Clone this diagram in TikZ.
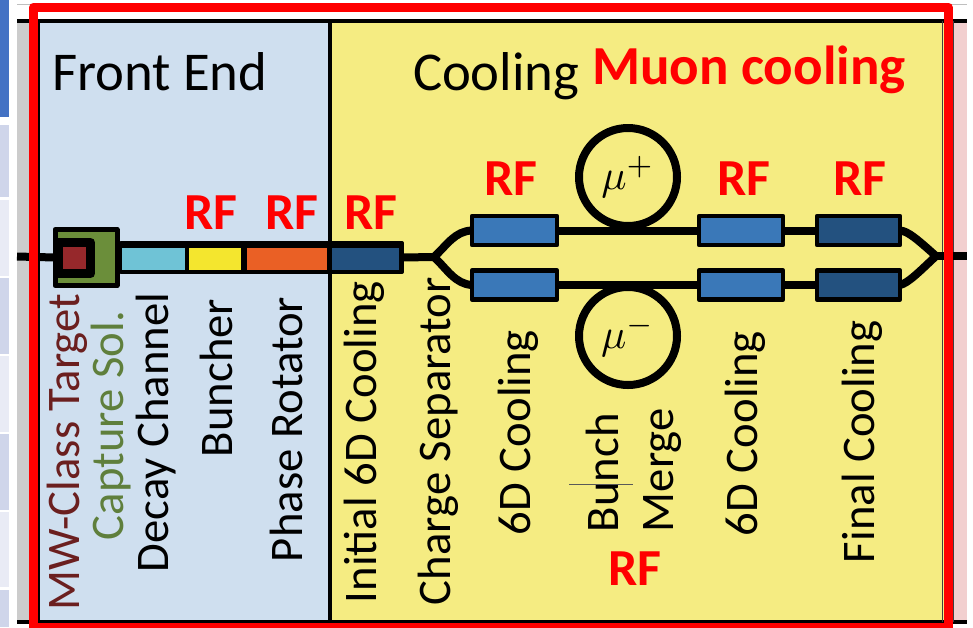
\documentclass[tikz,border=0pt]{standalone}
\usepackage{amsmath,amssymb}
\usepackage{xcolor}
\usepackage{graphicx}
\usepackage{fontspec}
\setmainfont{Carlito}
\definecolor{slideblue}{HTML}{4472C4}
\definecolor{panelblue}{HTML}{CFDFEF}
\definecolor{panelyellow}{HTML}{F5EC82}
\definecolor{panelpink}{HTML}{F2CFCF}
\definecolor{bandgray}{HTML}{CCCCCC}
\definecolor{rfblue}{HTML}{3A78B8}
\definecolor{rfdark}{HTML}{23517F}
\definecolor{decaycyan}{HTML}{6FC3D6}
\definecolor{bunchyellow}{HTML}{F4E62E}
\definecolor{rotorange}{HTML}{EA6025}
\definecolor{tgtfill}{HTML}{96282B}
\definecolor{tgtred}{HTML}{6B1F1F}
\definecolor{solgreen}{HTML}{6B8E3A}
\definecolor{solgreentxt}{HTML}{5F7F3C}
\tikzset{
	vlabel/.style={inner sep=0pt,outer sep=0pt,rotate=90,anchor=base west,font=\fontsize{46.7}{46.7}\selectfont},
	rflabel/.style={inner sep=0pt,outer sep=0pt,red,font=\fontsize{52}{52}\selectfont\bfseries},
	head/.style={inner sep=0pt,outer sep=0pt,anchor=base west,font=\fontsize{54.7}{54.7}\selectfont},
	cavity/.style={draw=black,line width=4.5pt,minimum width=#1,minimum height=29pt,inner sep=0pt,outer sep=0pt},
	seg/.style={inner sep=0pt,outer sep=0pt,minimum height=22pt},
	ring/.style={circle,draw=black,line width=8pt,minimum size=98pt,inner sep=0pt,outer sep=0pt},
	beam/.style={line width=8pt,black}
}
\begin{document}
\begin{tikzpicture}[x=1pt,y=-1pt,line join=round]
\useasboundingbox (0,0) rectangle (973,627);
% slide behind the frame
\fill[slideblue] (0,0) rectangle (9,117);
\foreach \ya/\yb/\col in {125/197/CFD5EA, 200/276/E9EBF5, 278/354/CFD5EA, 356/432/E9EBF5,
	434/510/CFD5EA, 512/587/E9EBF5, 590/627/CFD5EA}
	{\definecolor{cellcol}{HTML}{\col}\fill[cellcol] (0,\ya) rectangle (9,\yb);}
\fill[bandgray] (17,22) rectangle (30,621);
\fill[panelpink] (953,22) rectangle (967,621);
\draw[line width=0.8pt,black!25] (17,4) -- (967,4);
% panels
\fill[panelblue] (38,22) rectangle (330,621);
\fill[panelyellow] (330,22) rectangle (945,621);
\draw[line width=3.5pt] (17,21) -- (967,21) (17,622) -- (967,622);
\draw[line width=2.5pt] (39,21) -- (39,622);
\draw[line width=4pt] (329.5,21) -- (329.5,622);
\draw[line width=1.5pt,black!75] (942.5,21) -- (942.5,622) (953.5,21) -- (953.5,622);
% free ends of the beam
\coordinate (inbeam) at (17,256.5);
\coordinate (outbeam) at (967,256);
\coordinate (split) at (434,257);
\coordinate (merge) at (936,256);
% channel
\node[draw=black,fill=black,line width=4pt,inner sep=0pt,outer sep=0pt,minimum width=281pt,minimum height=29pt] (channel) at (261.5,257.5) {};
\node[seg,fill=decaycyan,minimum width=63pt] (decay) at (153.5,259) {};
\node[seg,fill=bunchyellow,minimum width=52pt] (buncher) at (215,259) {};
\node[seg,fill=rotorange,minimum width=80pt] (rotator) at (287,259) {};
\node[seg,fill=rfdark,minimum width=67pt] (initcool) at (365.5,259) {};
% target and capture solenoid
\node[draw=black,fill=solgreen,line width=5pt,inner sep=0pt,outer sep=0pt,minimum width=62pt,minimum height=56pt] (capsol) at (86,257.5) {};
\node[draw=black,fill=tgtfill,line width=9pt,inner sep=0pt,outer sep=0pt,minimum width=32pt,minimum height=31pt] (target) at (74.5,258) {};
\draw[beam] (inbeam) -- (capsol.west);
\draw[beam] (channel.east) -- (split);
% cavities of the two lanes
\foreach \nom/\x/\w/\col in {rfa/514.5/85/rfblue, rfb/741/84/rfblue, rfc/858.5/83/rfdark}
	{\node[cavity=\w pt,fill=\col] (\nom-up) at (\x,230.5) {};
	\node[cavity=\w pt,fill=\col] (\nom-dn) at (\x,285) {};}
\draw[beam] (rfa-up.east) -- (rfb-up.west) (rfb-up.east) -- (rfc-up.west);
\draw[beam] (rfa-dn.east) -- (rfb-dn.west) (rfb-dn.east) -- (rfc-dn.west);
\draw[beam] (split) .. controls (447,245) and (455,231) .. (rfa-up.west);
\draw[beam] (split) .. controls (447,269) and (455,284) .. (rfa-dn.west);
\draw[beam] (rfc-up.east) .. controls (908,231) and (918,240) .. (merge);
\draw[beam] (rfc-dn.east) .. controls (908,283) and (918,273) .. (merge);
\draw[beam] (merge) -- (outbeam);
\node[ring] (muplus) at (628,177) {\scalebox{4.2}{$\mu^{+}$}};
\node[ring] (muminus) at (628,336) {\scalebox{4.2}{$\mu^{-}$}};
% headings
\node[head] (frontend) at (52,90) {Front End};
\node[head] (cooling) at (413,90) {Cooling};
\node[head,red,font=\fontsize{55}{55}\selectfont\bfseries] (muoncool) at (592,84) {Muon cooling};
% upright labels
\foreach \x/\y/\nom/\txt/\col in {79/610/lbtarget/MW-Class Target/tgtred,
	123/540/lbsol/Capture Sol./solgreentxt,
	168/572/lbdecay/Decay Channel/black,
	232/457/lbbunch/Buncher/black,
	302/562/lbrot/Phase Rotator/black,
	376/603/lbinit/Initial 6D Cooling/black,
	450/605/lbsep/Charge Separator/black,
	530/535/lbsixa/6D Cooling/black,
	618/532/lbbm/Bunch/black,
	673/532/lbmerge/Merge/black,
	757/536/lbsixb/6D Cooling/black,
	874/563/lbfinal/Final Cooling/black}
	{\node[vlabel,text=\col] (\nom) at (\x,\y) {\txt};}
% RF tags
\foreach \x/\y/\nom in {211/213/rftaga, 292/213/rftagb, 371/213/rftagc, 511/179/rftagd,
	744/179/rftage, 860/179/rftagf, 635/569/rftagg}
	{\node[rflabel] (\nom) at (\x,\y) {RF};}
% stray line over the text
\coordinate (strayl) at (569,484);
\coordinate (strayr) at (633,484);
\draw[line width=1pt,black!65] (strayl) -- (strayr);
% red frame
\draw[line width=9pt,red] (33.5,7) rectangle (948,627.5);
\end{tikzpicture}
\end{document}
